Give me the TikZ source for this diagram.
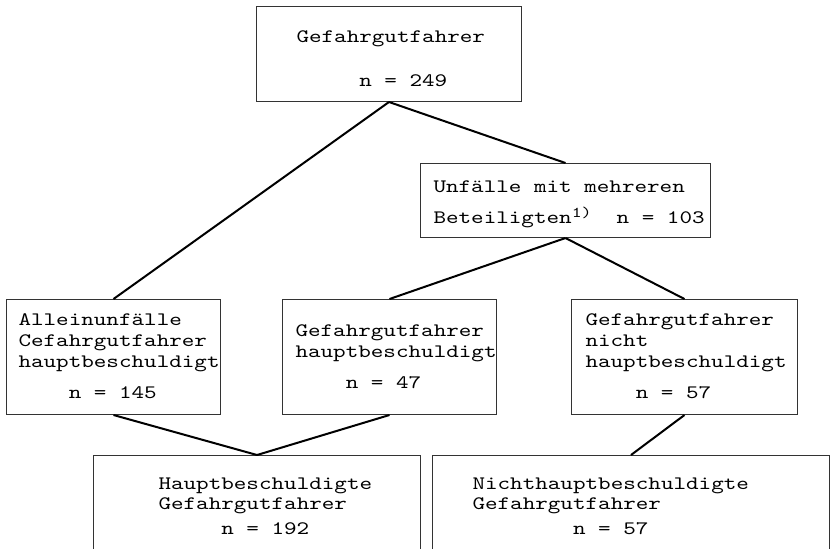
\documentclass[tikz,border=0pt]{standalone}
\usepackage{fontspec}
\setmonofont{lmmono10-regular.otf}[FakeStretch=1.26]
\hyphenpenalty=10000
\exhyphenpenalty=10000

\begin{document}
\begin{tikzpicture}
    [
        x=0.5pt, y=-0.5pt,
        box/.style={rectangle, draw=black!80, line width=0.5pt, anchor=north west, inner ysep=0pt, align=left, font=\ttfamily\fontsize{9.5}{10.5}\selectfont, execute at begin node={\spaceskip=6.28pt\relax}},
        link/.style={line width=1pt}
    ]
    \useasboundingbox (0,0) rectangle (831,548);

    % Nodes
    \node[box, minimum width=132.5pt, minimum height=47.5pt, inner xsep=20pt, text width=92.5pt] (gef) at (256,6)
        {\rule{0pt}{13.5pt}Gefahrgutfahrer\\[11.5pt]\phantom{00000}n = 249\rule[-3pt]{0pt}{0pt}};
    \node[box, minimum width=145pt, minimum height=37pt, inner xsep=6.5pt, text width=132pt] (mehr) at (420,163)
        {\rule{0pt}{10.5pt}Unfälle mit mehreren\\[5pt]Beteiligten\raisebox{3pt}{\fontsize{7.5}{8}\selectfont 1)}~~n~=~103\rule[-3pt]{0pt}{0pt}};
    \node[box, minimum width=107pt, minimum height=57.5pt, inner xsep=6pt, text width=95pt] (allein) at (6,299)
        {\rule{0pt}{8pt}Alleinunfälle\\Cefahrgutfahrer\\hauptbeschuldigt\\[5pt]\phantom{0000}n = 145\rule[-3pt]{0pt}{0pt}};
    \node[box, minimum width=107pt, minimum height=57.5pt, inner xsep=6.5pt, text width=94pt] (haupt) at (282,299)
        {\rule{0pt}{8.5pt}Gefahrgutfahrer\\hauptbeschuldigt\\[5pt]\phantom{0000}n = 47\rule[-3pt]{0pt}{0pt}};
    \node[box, minimum width=113pt, minimum height=57.5pt, inner xsep=7pt, text width=99pt] (nicht) at (571,299)
        {\rule{0pt}{8pt}Gefahrgutfahrer\\nicht\\hauptbeschuldigt\\[5pt]\phantom{0000}n = 57\rule[-3pt]{0pt}{0pt}};
    \node[box, minimum width=163.5pt, minimum height=60pt, inner xsep=32.5pt, text width=98.5pt] (hb) at (93,455)
        {\rule{0pt}{16pt}Hauptbeschuldigte\\[-0.5pt]Gefahrgutfahrer\\[2pt]\phantom{00000}n = 192\rule[-20pt]{0pt}{0pt}};
    \node[box, minimum width=198.5pt, minimum height=60pt, inner xsep=20pt, text width=158.5pt] (nhb) at (432,455)
        {\rule{0pt}{16pt}Nichthauptbeschuldigte\\[-0.5pt]Gefahrgutfahrer\\[2pt]\phantom{00000000}n = 57\rule[-20pt]{0pt}{0pt}};

    % Lines
    \draw[link] (gef.south) -- (allein.north);
    \draw[link] (gef.south) -- (mehr.north);
    \draw[link] (mehr.south) -- (haupt.north);
    \draw[link] (mehr.south) -- (nicht.north);
    \draw[link] (allein.south) -- (hb.north);
    \draw[link] (haupt.south) -- (hb.north);
    \draw[link] (nicht.south) -- (nhb.north);
\end{tikzpicture}
\end{document}
